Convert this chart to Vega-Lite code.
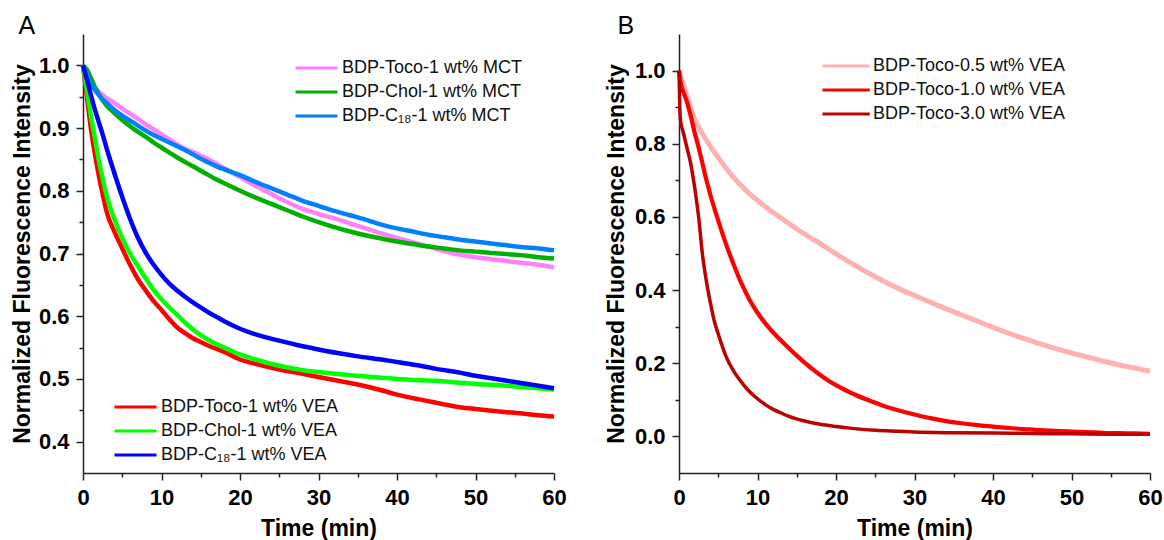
{
"$schema": "https://vega.github.io/schema/vega-lite/v6.json",
"background": "white",
"padding": {"left": 11, "top": 14, "right": 0, "bottom": 0},
"config": {
  "font": "Liberation Sans",
  "view": {"stroke": null},
  "concat": {"spacing": 38},
  "axis": {"domainColor": "#222", "domainWidth": 1.5, "tickColor": "#222", "tickWidth": 1.5, "grid": false,
    "labelFont": "Liberation Sans", "labelFontSize": 22, "labelFontWeight": "bold", "labelColor": "#000", "labelPadding": 7,
    "titleFont": "Liberation Sans", "titleFontSize": 23, "titleFontWeight": "bold", "titleColor": "#000"},
  "legend": {"orient": "none", "title": null, "labelFont": "Liberation Sans", "labelFontSize": 18, "labelColor": "#111",
    "symbolType": "M-1,0H3", "symbolSize": 441, "symbolStrokeWidth": 3, "labelOffset": 24, "rowPadding": 3, "padding": 0, "labelLimit": 400}
},
"datasets": {
"A": [
{"series":"BDP-Toco-1 wt% MCT","time":0,"value":1.0},{"series":"BDP-Toco-1 wt% MCT","time":0.5,"value":0.985},{"series":"BDP-Toco-1 wt% MCT","time":1,"value":0.972},{"series":"BDP-Toco-1 wt% MCT","time":2,"value":0.958},{"series":"BDP-Toco-1 wt% MCT","time":3,"value":0.948},{"series":"BDP-Toco-1 wt% MCT","time":4,"value":0.94},{"series":"BDP-Toco-1 wt% MCT","time":5,"value":0.931},{"series":"BDP-Toco-1 wt% MCT","time":6,"value":0.923},{"series":"BDP-Toco-1 wt% MCT","time":7,"value":0.915},{"series":"BDP-Toco-1 wt% MCT","time":8,"value":0.906},{"series":"BDP-Toco-1 wt% MCT","time":9,"value":0.898},{"series":"BDP-Toco-1 wt% MCT","time":10,"value":0.89},{"series":"BDP-Toco-1 wt% MCT","time":11,"value":0.882},{"series":"BDP-Toco-1 wt% MCT","time":12,"value":0.874},{"series":"BDP-Toco-1 wt% MCT","time":13,"value":0.867},{"series":"BDP-Toco-1 wt% MCT","time":14,"value":0.862},{"series":"BDP-Toco-1 wt% MCT","time":15,"value":0.856},{"series":"BDP-Toco-1 wt% MCT","time":16,"value":0.85},{"series":"BDP-Toco-1 wt% MCT","time":17,"value":0.843},{"series":"BDP-Toco-1 wt% MCT","time":18,"value":0.836},{"series":"BDP-Toco-1 wt% MCT","time":20,"value":0.822},{"series":"BDP-Toco-1 wt% MCT","time":22,"value":0.808},{"series":"BDP-Toco-1 wt% MCT","time":24,"value":0.795},{"series":"BDP-Toco-1 wt% MCT","time":26,"value":0.782},{"series":"BDP-Toco-1 wt% MCT","time":28,"value":0.771},{"series":"BDP-Toco-1 wt% MCT","time":30,"value":0.763},{"series":"BDP-Toco-1 wt% MCT","time":32,"value":0.756},{"series":"BDP-Toco-1 wt% MCT","time":34,"value":0.748},{"series":"BDP-Toco-1 wt% MCT","time":36,"value":0.74},{"series":"BDP-Toco-1 wt% MCT","time":38,"value":0.732},{"series":"BDP-Toco-1 wt% MCT","time":40,"value":0.725},{"series":"BDP-Toco-1 wt% MCT","time":42,"value":0.718},{"series":"BDP-Toco-1 wt% MCT","time":44,"value":0.711},{"series":"BDP-Toco-1 wt% MCT","time":46,"value":0.704},{"series":"BDP-Toco-1 wt% MCT","time":48,"value":0.698},{"series":"BDP-Toco-1 wt% MCT","time":50,"value":0.694},{"series":"BDP-Toco-1 wt% MCT","time":52,"value":0.691},{"series":"BDP-Toco-1 wt% MCT","time":54,"value":0.688},{"series":"BDP-Toco-1 wt% MCT","time":56,"value":0.685},{"series":"BDP-Toco-1 wt% MCT","time":58,"value":0.682},{"series":"BDP-Toco-1 wt% MCT","time":60,"value":0.678},
{"series":"BDP-Chol-1 wt% MCT","time":0,"value":1.0},{"series":"BDP-Chol-1 wt% MCT","time":0.5,"value":0.993},{"series":"BDP-Chol-1 wt% MCT","time":1,"value":0.98},{"series":"BDP-Chol-1 wt% MCT","time":1.5,"value":0.966},{"series":"BDP-Chol-1 wt% MCT","time":2,"value":0.954},{"series":"BDP-Chol-1 wt% MCT","time":3,"value":0.936},{"series":"BDP-Chol-1 wt% MCT","time":4,"value":0.924},{"series":"BDP-Chol-1 wt% MCT","time":5,"value":0.913},{"series":"BDP-Chol-1 wt% MCT","time":6,"value":0.903},{"series":"BDP-Chol-1 wt% MCT","time":7,"value":0.894},{"series":"BDP-Chol-1 wt% MCT","time":8,"value":0.886},{"series":"BDP-Chol-1 wt% MCT","time":9,"value":0.877},{"series":"BDP-Chol-1 wt% MCT","time":10,"value":0.869},{"series":"BDP-Chol-1 wt% MCT","time":11,"value":0.861},{"series":"BDP-Chol-1 wt% MCT","time":12,"value":0.853},{"series":"BDP-Chol-1 wt% MCT","time":13,"value":0.846},{"series":"BDP-Chol-1 wt% MCT","time":14,"value":0.839},{"series":"BDP-Chol-1 wt% MCT","time":15,"value":0.832},{"series":"BDP-Chol-1 wt% MCT","time":16,"value":0.825},{"series":"BDP-Chol-1 wt% MCT","time":17,"value":0.818},{"series":"BDP-Chol-1 wt% MCT","time":18,"value":0.812},{"series":"BDP-Chol-1 wt% MCT","time":20,"value":0.8},{"series":"BDP-Chol-1 wt% MCT","time":22,"value":0.789},{"series":"BDP-Chol-1 wt% MCT","time":24,"value":0.779},{"series":"BDP-Chol-1 wt% MCT","time":26,"value":0.769},{"series":"BDP-Chol-1 wt% MCT","time":28,"value":0.759},{"series":"BDP-Chol-1 wt% MCT","time":30,"value":0.75},{"series":"BDP-Chol-1 wt% MCT","time":32,"value":0.742},{"series":"BDP-Chol-1 wt% MCT","time":34,"value":0.735},{"series":"BDP-Chol-1 wt% MCT","time":36,"value":0.729},{"series":"BDP-Chol-1 wt% MCT","time":38,"value":0.724},{"series":"BDP-Chol-1 wt% MCT","time":40,"value":0.719},{"series":"BDP-Chol-1 wt% MCT","time":42,"value":0.715},{"series":"BDP-Chol-1 wt% MCT","time":44,"value":0.711},{"series":"BDP-Chol-1 wt% MCT","time":46,"value":0.708},{"series":"BDP-Chol-1 wt% MCT","time":48,"value":0.705},{"series":"BDP-Chol-1 wt% MCT","time":50,"value":0.703},{"series":"BDP-Chol-1 wt% MCT","time":52,"value":0.701},{"series":"BDP-Chol-1 wt% MCT","time":54,"value":0.699},{"series":"BDP-Chol-1 wt% MCT","time":56,"value":0.697},{"series":"BDP-Chol-1 wt% MCT","time":58,"value":0.694},{"series":"BDP-Chol-1 wt% MCT","time":60,"value":0.692},
{"series":"BDP-C₁₈-1 wt% MCT","time":0,"value":1.0},{"series":"BDP-C₁₈-1 wt% MCT","time":0.5,"value":0.985},{"series":"BDP-C₁₈-1 wt% MCT","time":1,"value":0.971},{"series":"BDP-C₁₈-1 wt% MCT","time":2,"value":0.953},{"series":"BDP-C₁₈-1 wt% MCT","time":3,"value":0.94},{"series":"BDP-C₁₈-1 wt% MCT","time":4,"value":0.929},{"series":"BDP-C₁₈-1 wt% MCT","time":5,"value":0.92},{"series":"BDP-C₁₈-1 wt% MCT","time":6,"value":0.912},{"series":"BDP-C₁₈-1 wt% MCT","time":7,"value":0.904},{"series":"BDP-C₁₈-1 wt% MCT","time":8,"value":0.896},{"series":"BDP-C₁₈-1 wt% MCT","time":9,"value":0.889},{"series":"BDP-C₁₈-1 wt% MCT","time":10,"value":0.883},{"series":"BDP-C₁₈-1 wt% MCT","time":11,"value":0.877},{"series":"BDP-C₁₈-1 wt% MCT","time":12,"value":0.871},{"series":"BDP-C₁₈-1 wt% MCT","time":13,"value":0.865},{"series":"BDP-C₁₈-1 wt% MCT","time":14,"value":0.858},{"series":"BDP-C₁₈-1 wt% MCT","time":15,"value":0.851},{"series":"BDP-C₁₈-1 wt% MCT","time":16,"value":0.845},{"series":"BDP-C₁₈-1 wt% MCT","time":17,"value":0.839},{"series":"BDP-C₁₈-1 wt% MCT","time":18,"value":0.834},{"series":"BDP-C₁₈-1 wt% MCT","time":20,"value":0.825},{"series":"BDP-C₁₈-1 wt% MCT","time":22,"value":0.814},{"series":"BDP-C₁₈-1 wt% MCT","time":24,"value":0.804},{"series":"BDP-C₁₈-1 wt% MCT","time":26,"value":0.794},{"series":"BDP-C₁₈-1 wt% MCT","time":28,"value":0.784},{"series":"BDP-C₁₈-1 wt% MCT","time":30,"value":0.776},{"series":"BDP-C₁₈-1 wt% MCT","time":32,"value":0.768},{"series":"BDP-C₁₈-1 wt% MCT","time":34,"value":0.761},{"series":"BDP-C₁₈-1 wt% MCT","time":36,"value":0.754},{"series":"BDP-C₁₈-1 wt% MCT","time":38,"value":0.746},{"series":"BDP-C₁₈-1 wt% MCT","time":40,"value":0.74},{"series":"BDP-C₁₈-1 wt% MCT","time":42,"value":0.735},{"series":"BDP-C₁₈-1 wt% MCT","time":44,"value":0.73},{"series":"BDP-C₁₈-1 wt% MCT","time":46,"value":0.726},{"series":"BDP-C₁₈-1 wt% MCT","time":48,"value":0.722},{"series":"BDP-C₁₈-1 wt% MCT","time":50,"value":0.719},{"series":"BDP-C₁₈-1 wt% MCT","time":52,"value":0.716},{"series":"BDP-C₁₈-1 wt% MCT","time":54,"value":0.713},{"series":"BDP-C₁₈-1 wt% MCT","time":56,"value":0.71},{"series":"BDP-C₁₈-1 wt% MCT","time":58,"value":0.708},{"series":"BDP-C₁₈-1 wt% MCT","time":60,"value":0.705},
{"series":"BDP-Toco-1 wt% VEA","time":0,"value":1.0},{"series":"BDP-Toco-1 wt% VEA","time":0.5,"value":0.95},{"series":"BDP-Toco-1 wt% VEA","time":1,"value":0.9},{"series":"BDP-Toco-1 wt% VEA","time":1.5,"value":0.86},{"series":"BDP-Toco-1 wt% VEA","time":2,"value":0.825},{"series":"BDP-Toco-1 wt% VEA","time":2.5,"value":0.795},{"series":"BDP-Toco-1 wt% VEA","time":3,"value":0.767},{"series":"BDP-Toco-1 wt% VEA","time":4,"value":0.735},{"series":"BDP-Toco-1 wt% VEA","time":5,"value":0.708},{"series":"BDP-Toco-1 wt% VEA","time":6,"value":0.682},{"series":"BDP-Toco-1 wt% VEA","time":7,"value":0.659},{"series":"BDP-Toco-1 wt% VEA","time":8,"value":0.641},{"series":"BDP-Toco-1 wt% VEA","time":9,"value":0.624},{"series":"BDP-Toco-1 wt% VEA","time":10,"value":0.61},{"series":"BDP-Toco-1 wt% VEA","time":11,"value":0.595},{"series":"BDP-Toco-1 wt% VEA","time":12,"value":0.582},{"series":"BDP-Toco-1 wt% VEA","time":13,"value":0.573},{"series":"BDP-Toco-1 wt% VEA","time":14,"value":0.565},{"series":"BDP-Toco-1 wt% VEA","time":15,"value":0.559},{"series":"BDP-Toco-1 wt% VEA","time":16,"value":0.553},{"series":"BDP-Toco-1 wt% VEA","time":18,"value":0.543},{"series":"BDP-Toco-1 wt% VEA","time":20,"value":0.531},{"series":"BDP-Toco-1 wt% VEA","time":22,"value":0.524},{"series":"BDP-Toco-1 wt% VEA","time":25,"value":0.515},{"series":"BDP-Toco-1 wt% VEA","time":28,"value":0.508},{"series":"BDP-Toco-1 wt% VEA","time":30,"value":0.503},{"series":"BDP-Toco-1 wt% VEA","time":33,"value":0.496},{"series":"BDP-Toco-1 wt% VEA","time":35,"value":0.491},{"series":"BDP-Toco-1 wt% VEA","time":38,"value":0.482},{"series":"BDP-Toco-1 wt% VEA","time":40,"value":0.475},{"series":"BDP-Toco-1 wt% VEA","time":43,"value":0.467},{"series":"BDP-Toco-1 wt% VEA","time":45,"value":0.462},{"series":"BDP-Toco-1 wt% VEA","time":48,"value":0.455},{"series":"BDP-Toco-1 wt% VEA","time":50,"value":0.452},{"series":"BDP-Toco-1 wt% VEA","time":53,"value":0.448},{"series":"BDP-Toco-1 wt% VEA","time":55,"value":0.446},{"series":"BDP-Toco-1 wt% VEA","time":58,"value":0.442},{"series":"BDP-Toco-1 wt% VEA","time":60,"value":0.44},
{"series":"BDP-Chol-1 wt% VEA","time":0,"value":1.0},{"series":"BDP-Chol-1 wt% VEA","time":0.5,"value":0.96},{"series":"BDP-Chol-1 wt% VEA","time":1,"value":0.92},{"series":"BDP-Chol-1 wt% VEA","time":1.5,"value":0.885},{"series":"BDP-Chol-1 wt% VEA","time":2,"value":0.85},{"series":"BDP-Chol-1 wt% VEA","time":2.5,"value":0.82},{"series":"BDP-Chol-1 wt% VEA","time":3,"value":0.793},{"series":"BDP-Chol-1 wt% VEA","time":4,"value":0.755},{"series":"BDP-Chol-1 wt% VEA","time":5,"value":0.725},{"series":"BDP-Chol-1 wt% VEA","time":6,"value":0.7},{"series":"BDP-Chol-1 wt% VEA","time":7,"value":0.68},{"series":"BDP-Chol-1 wt% VEA","time":8,"value":0.66},{"series":"BDP-Chol-1 wt% VEA","time":9,"value":0.642},{"series":"BDP-Chol-1 wt% VEA","time":10,"value":0.627},{"series":"BDP-Chol-1 wt% VEA","time":11,"value":0.614},{"series":"BDP-Chol-1 wt% VEA","time":12,"value":0.602},{"series":"BDP-Chol-1 wt% VEA","time":13,"value":0.59},{"series":"BDP-Chol-1 wt% VEA","time":14,"value":0.579},{"series":"BDP-Chol-1 wt% VEA","time":15,"value":0.57},{"series":"BDP-Chol-1 wt% VEA","time":16,"value":0.562},{"series":"BDP-Chol-1 wt% VEA","time":18,"value":0.55},{"series":"BDP-Chol-1 wt% VEA","time":20,"value":0.539},{"series":"BDP-Chol-1 wt% VEA","time":22,"value":0.531},{"series":"BDP-Chol-1 wt% VEA","time":25,"value":0.521},{"series":"BDP-Chol-1 wt% VEA","time":28,"value":0.514},{"series":"BDP-Chol-1 wt% VEA","time":30,"value":0.511},{"series":"BDP-Chol-1 wt% VEA","time":33,"value":0.507},{"series":"BDP-Chol-1 wt% VEA","time":35,"value":0.505},{"series":"BDP-Chol-1 wt% VEA","time":38,"value":0.502},{"series":"BDP-Chol-1 wt% VEA","time":40,"value":0.5},{"series":"BDP-Chol-1 wt% VEA","time":43,"value":0.498},{"series":"BDP-Chol-1 wt% VEA","time":45,"value":0.497},{"series":"BDP-Chol-1 wt% VEA","time":48,"value":0.494},{"series":"BDP-Chol-1 wt% VEA","time":50,"value":0.492},{"series":"BDP-Chol-1 wt% VEA","time":53,"value":0.49},{"series":"BDP-Chol-1 wt% VEA","time":55,"value":0.488},{"series":"BDP-Chol-1 wt% VEA","time":58,"value":0.485},{"series":"BDP-Chol-1 wt% VEA","time":60,"value":0.483},
{"series":"BDP-C₁₈-1 wt% VEA","time":0,"value":1.0},{"series":"BDP-C₁₈-1 wt% VEA","time":0.5,"value":0.977},{"series":"BDP-C₁₈-1 wt% VEA","time":1,"value":0.953},{"series":"BDP-C₁₈-1 wt% VEA","time":1.5,"value":0.93},{"series":"BDP-C₁₈-1 wt% VEA","time":2,"value":0.91},{"series":"BDP-C₁₈-1 wt% VEA","time":2.5,"value":0.89},{"series":"BDP-C₁₈-1 wt% VEA","time":3,"value":0.868},{"series":"BDP-C₁₈-1 wt% VEA","time":4,"value":0.828},{"series":"BDP-C₁₈-1 wt% VEA","time":5,"value":0.79},{"series":"BDP-C₁₈-1 wt% VEA","time":6,"value":0.755},{"series":"BDP-C₁₈-1 wt% VEA","time":7,"value":0.725},{"series":"BDP-C₁₈-1 wt% VEA","time":8,"value":0.701},{"series":"BDP-C₁₈-1 wt% VEA","time":9,"value":0.682},{"series":"BDP-C₁₈-1 wt% VEA","time":10,"value":0.666},{"series":"BDP-C₁₈-1 wt% VEA","time":11,"value":0.652},{"series":"BDP-C₁₈-1 wt% VEA","time":12,"value":0.641},{"series":"BDP-C₁₈-1 wt% VEA","time":13,"value":0.631},{"series":"BDP-C₁₈-1 wt% VEA","time":14,"value":0.622},{"series":"BDP-C₁₈-1 wt% VEA","time":15,"value":0.614},{"series":"BDP-C₁₈-1 wt% VEA","time":16,"value":0.606},{"series":"BDP-C₁₈-1 wt% VEA","time":17,"value":0.599},{"series":"BDP-C₁₈-1 wt% VEA","time":18,"value":0.592},{"series":"BDP-C₁₈-1 wt% VEA","time":20,"value":0.58},{"series":"BDP-C₁₈-1 wt% VEA","time":22,"value":0.571},{"series":"BDP-C₁₈-1 wt% VEA","time":25,"value":0.561},{"series":"BDP-C₁₈-1 wt% VEA","time":28,"value":0.552},{"series":"BDP-C₁₈-1 wt% VEA","time":30,"value":0.547},{"series":"BDP-C₁₈-1 wt% VEA","time":33,"value":0.54},{"series":"BDP-C₁₈-1 wt% VEA","time":35,"value":0.536},{"series":"BDP-C₁₈-1 wt% VEA","time":38,"value":0.531},{"series":"BDP-C₁₈-1 wt% VEA","time":40,"value":0.527},{"series":"BDP-C₁₈-1 wt% VEA","time":43,"value":0.521},{"series":"BDP-C₁₈-1 wt% VEA","time":45,"value":0.516},{"series":"BDP-C₁₈-1 wt% VEA","time":48,"value":0.51},{"series":"BDP-C₁₈-1 wt% VEA","time":50,"value":0.505},{"series":"BDP-C₁₈-1 wt% VEA","time":53,"value":0.499},{"series":"BDP-C₁₈-1 wt% VEA","time":55,"value":0.495},{"series":"BDP-C₁₈-1 wt% VEA","time":58,"value":0.489},{"series":"BDP-C₁₈-1 wt% VEA","time":60,"value":0.485}
],
"B": [
{"series":"BDP-Toco-0.5 wt% VEA","time":0,"value":1.0},{"series":"BDP-Toco-0.5 wt% VEA","time":0.5,"value":0.965},{"series":"BDP-Toco-0.5 wt% VEA","time":1,"value":0.932},{"series":"BDP-Toco-0.5 wt% VEA","time":1.5,"value":0.897},{"series":"BDP-Toco-0.5 wt% VEA","time":2,"value":0.868},{"series":"BDP-Toco-0.5 wt% VEA","time":3,"value":0.827},{"series":"BDP-Toco-0.5 wt% VEA","time":4,"value":0.793},{"series":"BDP-Toco-0.5 wt% VEA","time":5,"value":0.762},{"series":"BDP-Toco-0.5 wt% VEA","time":6,"value":0.733},{"series":"BDP-Toco-0.5 wt% VEA","time":7,"value":0.707},{"series":"BDP-Toco-0.5 wt% VEA","time":8,"value":0.684},{"series":"BDP-Toco-0.5 wt% VEA","time":9,"value":0.663},{"series":"BDP-Toco-0.5 wt% VEA","time":10,"value":0.645},{"series":"BDP-Toco-0.5 wt% VEA","time":11,"value":0.628},{"series":"BDP-Toco-0.5 wt% VEA","time":12,"value":0.612},{"series":"BDP-Toco-0.5 wt% VEA","time":13,"value":0.597},{"series":"BDP-Toco-0.5 wt% VEA","time":14,"value":0.582},{"series":"BDP-Toco-0.5 wt% VEA","time":15,"value":0.567},{"series":"BDP-Toco-0.5 wt% VEA","time":16,"value":0.553},{"series":"BDP-Toco-0.5 wt% VEA","time":17,"value":0.54},{"series":"BDP-Toco-0.5 wt% VEA","time":18,"value":0.527},{"series":"BDP-Toco-0.5 wt% VEA","time":19,"value":0.513},{"series":"BDP-Toco-0.5 wt% VEA","time":20,"value":0.499},{"series":"BDP-Toco-0.5 wt% VEA","time":22,"value":0.473},{"series":"BDP-Toco-0.5 wt% VEA","time":24,"value":0.448},{"series":"BDP-Toco-0.5 wt% VEA","time":26,"value":0.425},{"series":"BDP-Toco-0.5 wt% VEA","time":28,"value":0.404},{"series":"BDP-Toco-0.5 wt% VEA","time":30,"value":0.385},{"series":"BDP-Toco-0.5 wt% VEA","time":32,"value":0.367},{"series":"BDP-Toco-0.5 wt% VEA","time":34,"value":0.349},{"series":"BDP-Toco-0.5 wt% VEA","time":36,"value":0.332},{"series":"BDP-Toco-0.5 wt% VEA","time":38,"value":0.315},{"series":"BDP-Toco-0.5 wt% VEA","time":40,"value":0.298},{"series":"BDP-Toco-0.5 wt% VEA","time":42,"value":0.282},{"series":"BDP-Toco-0.5 wt% VEA","time":44,"value":0.267},{"series":"BDP-Toco-0.5 wt% VEA","time":46,"value":0.253},{"series":"BDP-Toco-0.5 wt% VEA","time":48,"value":0.24},{"series":"BDP-Toco-0.5 wt% VEA","time":50,"value":0.228},{"series":"BDP-Toco-0.5 wt% VEA","time":52,"value":0.217},{"series":"BDP-Toco-0.5 wt% VEA","time":54,"value":0.206},{"series":"BDP-Toco-0.5 wt% VEA","time":56,"value":0.196},{"series":"BDP-Toco-0.5 wt% VEA","time":58,"value":0.187},{"series":"BDP-Toco-0.5 wt% VEA","time":60,"value":0.178},
{"series":"BDP-Toco-1.0 wt% VEA","time":0,"value":1.0},{"series":"BDP-Toco-1.0 wt% VEA","time":0.25,"value":0.96},{"series":"BDP-Toco-1.0 wt% VEA","time":0.5,"value":0.945},{"series":"BDP-Toco-1.0 wt% VEA","time":1,"value":0.915},{"series":"BDP-Toco-1.0 wt% VEA","time":1.5,"value":0.875},{"series":"BDP-Toco-1.0 wt% VEA","time":2,"value":0.83},{"series":"BDP-Toco-1.0 wt% VEA","time":2.5,"value":0.79},{"series":"BDP-Toco-1.0 wt% VEA","time":3,"value":0.745},{"series":"BDP-Toco-1.0 wt% VEA","time":3.5,"value":0.7},{"series":"BDP-Toco-1.0 wt% VEA","time":4,"value":0.66},{"series":"BDP-Toco-1.0 wt% VEA","time":5,"value":0.59},{"series":"BDP-Toco-1.0 wt% VEA","time":6,"value":0.525},{"series":"BDP-Toco-1.0 wt% VEA","time":7,"value":0.468},{"series":"BDP-Toco-1.0 wt% VEA","time":8,"value":0.416},{"series":"BDP-Toco-1.0 wt% VEA","time":9,"value":0.373},{"series":"BDP-Toco-1.0 wt% VEA","time":10,"value":0.338},{"series":"BDP-Toco-1.0 wt% VEA","time":11,"value":0.309},{"series":"BDP-Toco-1.0 wt% VEA","time":12,"value":0.284},{"series":"BDP-Toco-1.0 wt% VEA","time":13,"value":0.262},{"series":"BDP-Toco-1.0 wt% VEA","time":14,"value":0.241},{"series":"BDP-Toco-1.0 wt% VEA","time":15,"value":0.221},{"series":"BDP-Toco-1.0 wt% VEA","time":16,"value":0.202},{"series":"BDP-Toco-1.0 wt% VEA","time":17,"value":0.184},{"series":"BDP-Toco-1.0 wt% VEA","time":18,"value":0.168},{"series":"BDP-Toco-1.0 wt% VEA","time":19,"value":0.153},{"series":"BDP-Toco-1.0 wt% VEA","time":20,"value":0.14},{"series":"BDP-Toco-1.0 wt% VEA","time":22,"value":0.118},{"series":"BDP-Toco-1.0 wt% VEA","time":24,"value":0.1},{"series":"BDP-Toco-1.0 wt% VEA","time":26,"value":0.084},{"series":"BDP-Toco-1.0 wt% VEA","time":28,"value":0.071},{"series":"BDP-Toco-1.0 wt% VEA","time":30,"value":0.06},{"series":"BDP-Toco-1.0 wt% VEA","time":32,"value":0.05},{"series":"BDP-Toco-1.0 wt% VEA","time":34,"value":0.042},{"series":"BDP-Toco-1.0 wt% VEA","time":36,"value":0.036},{"series":"BDP-Toco-1.0 wt% VEA","time":38,"value":0.031},{"series":"BDP-Toco-1.0 wt% VEA","time":40,"value":0.027},{"series":"BDP-Toco-1.0 wt% VEA","time":42,"value":0.023},{"series":"BDP-Toco-1.0 wt% VEA","time":44,"value":0.02},{"series":"BDP-Toco-1.0 wt% VEA","time":46,"value":0.017},{"series":"BDP-Toco-1.0 wt% VEA","time":48,"value":0.015},{"series":"BDP-Toco-1.0 wt% VEA","time":50,"value":0.013},{"series":"BDP-Toco-1.0 wt% VEA","time":52,"value":0.012},{"series":"BDP-Toco-1.0 wt% VEA","time":54,"value":0.01},{"series":"BDP-Toco-1.0 wt% VEA","time":56,"value":0.009},{"series":"BDP-Toco-1.0 wt% VEA","time":58,"value":0.008},{"series":"BDP-Toco-1.0 wt% VEA","time":60,"value":0.007},
{"series":"BDP-Toco-3.0 wt% VEA","time":0,"value":1.0},{"series":"BDP-Toco-3.0 wt% VEA","time":0.1,"value":0.9},{"series":"BDP-Toco-3.0 wt% VEA","time":0.25,"value":0.855},{"series":"BDP-Toco-3.0 wt% VEA","time":0.5,"value":0.835},{"series":"BDP-Toco-3.0 wt% VEA","time":1,"value":0.79},{"series":"BDP-Toco-3.0 wt% VEA","time":1.5,"value":0.745},{"series":"BDP-Toco-3.0 wt% VEA","time":2,"value":0.68},{"series":"BDP-Toco-3.0 wt% VEA","time":2.5,"value":0.6},{"series":"BDP-Toco-3.0 wt% VEA","time":3,"value":0.495},{"series":"BDP-Toco-3.0 wt% VEA","time":3.5,"value":0.423},{"series":"BDP-Toco-3.0 wt% VEA","time":4,"value":0.365},{"series":"BDP-Toco-3.0 wt% VEA","time":4.5,"value":0.315},{"series":"BDP-Toco-3.0 wt% VEA","time":5,"value":0.28},{"series":"BDP-Toco-3.0 wt% VEA","time":6,"value":0.218},{"series":"BDP-Toco-3.0 wt% VEA","time":7,"value":0.177},{"series":"BDP-Toco-3.0 wt% VEA","time":8,"value":0.147},{"series":"BDP-Toco-3.0 wt% VEA","time":9,"value":0.122},{"series":"BDP-Toco-3.0 wt% VEA","time":10,"value":0.103},{"series":"BDP-Toco-3.0 wt% VEA","time":11,"value":0.087},{"series":"BDP-Toco-3.0 wt% VEA","time":12,"value":0.074},{"series":"BDP-Toco-3.0 wt% VEA","time":13,"value":0.064},{"series":"BDP-Toco-3.0 wt% VEA","time":14,"value":0.055},{"series":"BDP-Toco-3.0 wt% VEA","time":16,"value":0.042},{"series":"BDP-Toco-3.0 wt% VEA","time":18,"value":0.033},{"series":"BDP-Toco-3.0 wt% VEA","time":20,"value":0.027},{"series":"BDP-Toco-3.0 wt% VEA","time":22,"value":0.022},{"series":"BDP-Toco-3.0 wt% VEA","time":25,"value":0.017},{"series":"BDP-Toco-3.0 wt% VEA","time":28,"value":0.014},{"series":"BDP-Toco-3.0 wt% VEA","time":30,"value":0.012},{"series":"BDP-Toco-3.0 wt% VEA","time":35,"value":0.01},{"series":"BDP-Toco-3.0 wt% VEA","time":40,"value":0.009},{"series":"BDP-Toco-3.0 wt% VEA","time":45,"value":0.008},{"series":"BDP-Toco-3.0 wt% VEA","time":50,"value":0.007},{"series":"BDP-Toco-3.0 wt% VEA","time":55,"value":0.006},{"series":"BDP-Toco-3.0 wt% VEA","time":60,"value":0.006}
]
},
"resolve": {"scale": {"color": "independent", "stroke": "independent"}, "legend": {"color": "independent", "stroke": "independent"}},
"hconcat": [
{
  "width": 471, "height": 439,
  "title": {"text": "A", "anchor": "start", "frame": "bounds", "fontSize": 25, "fontWeight": "normal", "font": "Liberation Sans", "color": "#000", "baseline": "alphabetic", "offset": -25, "dx": 7},
  "data": {"name": "A"},
  "encoding": {
    "x": {"field": "time", "type": "quantitative", "scale": {"domain": [0, 60], "nice": false, "zero": false},
      "axis": {"title": "Time (min)", "values": [0,5,10,15,20,25,30,35,40,45,50,55,60],
        "labelExpr": "datum.value % 10 === 0 ? datum.label : ''",
        "tickSize": {"condition": {"test": "datum.value % 10 === 0", "value": 7}, "value": 4},
        "labelFlush": false, "titlePadding": 9}},
    "y": {"field": "value", "type": "quantitative", "scale": {"domain": [0.35, 1.05], "nice": false, "zero": false},
      "axis": {"title": "Normalized Fluorescence Intensity", "values": [0.4,0.45,0.5,0.55,0.6,0.65,0.7,0.75,0.8,0.85,0.9,0.95,1.0],
        "labelExpr": "abs(datum.value*10 - round(datum.value*10)) < 0.01 ? format(datum.value, '.1f') : ''",
        "tickSize": {"condition": {"test": "abs(datum.value*10 - round(datum.value*10)) < 0.01", "value": 7}, "value": 4},
        "titlePadding": 4}}
  },
  "layer": [
    {"transform": [{"filter": {"field": "series", "oneOf": ["BDP-Toco-1 wt% MCT","BDP-Chol-1 wt% MCT","BDP-C₁₈-1 wt% MCT"]}}],
     "mark": {"type": "line", "strokeWidth": 4.5, "interpolate": "monotone"},
     "encoding": {"color": {"field": "series", "type": "nominal",
        "scale": {"domain": ["BDP-Toco-1 wt% MCT","BDP-Chol-1 wt% MCT","BDP-C₁₈-1 wt% MCT"], "range": ["#ff80ff","#00b000","#0080ff"]},
        "legend": {"legendX": 211, "legendY": 22}}}},
    {"transform": [{"filter": {"field": "series", "oneOf": ["BDP-Toco-1 wt% VEA","BDP-Chol-1 wt% VEA","BDP-C₁₈-1 wt% VEA"]}}],
     "mark": {"type": "line", "strokeWidth": 4.5, "interpolate": "monotone"},
     "encoding": {"stroke": {"field": "series", "type": "nominal",
        "scale": {"domain": ["BDP-Toco-1 wt% VEA","BDP-Chol-1 wt% VEA","BDP-C₁₈-1 wt% VEA"], "range": ["#ff0000","#00ff00","#0000ff"]},
        "legend": {"legendX": 30, "legendY": 361}}}}
  ]
},
{
  "width": 471, "height": 439,
  "title": {"text": "B", "anchor": "start", "frame": "bounds", "fontSize": 25, "fontWeight": "normal", "font": "Liberation Sans", "color": "#000", "baseline": "alphabetic", "offset": -25, "dx": 12},
  "data": {"name": "B"},
  "mark": {"type": "line", "interpolate": "monotone"},
  "encoding": {
    "x": {"field": "time", "type": "quantitative", "scale": {"domain": [0, 60], "nice": false, "zero": false},
      "axis": {"title": "Time (min)", "values": [0,5,10,15,20,25,30,35,40,45,50,55,60],
        "labelExpr": "datum.value % 10 === 0 ? datum.label : ''",
        "tickSize": {"condition": {"test": "datum.value % 10 === 0", "value": 7}, "value": 4},
        "labelFlush": false, "titlePadding": 9}},
    "y": {"field": "value", "type": "quantitative", "scale": {"domain": [-0.1, 1.1], "nice": false, "zero": false},
      "axis": {"title": "Normalized Fluorescence Intensity", "values": [0,0.1,0.2,0.3,0.4,0.5,0.6,0.7,0.8,0.9,1.0],
        "labelExpr": "abs(datum.value*5 - round(datum.value*5)) < 0.01 ? format(datum.value, '.1f') : ''",
        "tickSize": {"condition": {"test": "abs(datum.value*5 - round(datum.value*5)) < 0.01", "value": 7}, "value": 4},
        "titlePadding": 6}},
    "color": {"field": "series", "type": "nominal",
      "scale": {"domain": ["BDP-Toco-0.5 wt% VEA","BDP-Toco-1.0 wt% VEA","BDP-Toco-3.0 wt% VEA"], "range": ["#ffb0b0","#ff0000","#bb0000"]},
      "legend": {"legendX": 142, "legendY": 20, "symbolType": "M-1,0H3.5", "labelOffset": 28}},
    "strokeWidth": {"field": "series", "type": "nominal",
      "scale": {"domain": ["BDP-Toco-0.5 wt% VEA","BDP-Toco-1.0 wt% VEA","BDP-Toco-3.0 wt% VEA"], "range": [5, 3.5, 2.5]},
      "legend": null}
  }
}
]
}
